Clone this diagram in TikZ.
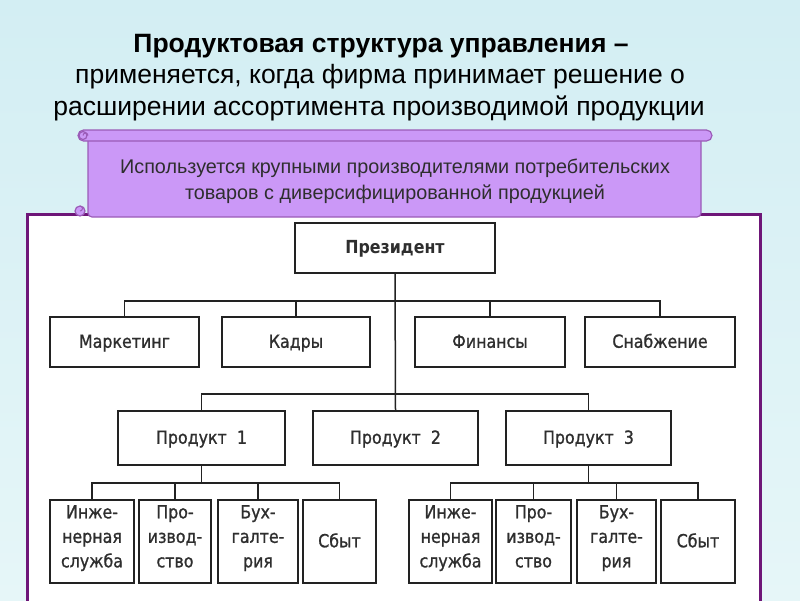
\documentclass[tikz,border=0pt]{standalone}
\usepackage{fontspec}
\newfontfamily\tfont{Liberation Sans}
\newfontfamily\cfont[FakeBold=1.0,FakeStretch=0.88]{DejaVu Sans}
\newfontfamily\cbfont[FakeStretch=0.88]{DejaVu Sans Bold}
\definecolor{bgtop}{HTML}{D3EEF3}
\definecolor{bgbot}{HTML}{E6F6F8}
\definecolor{scrollfill}{HTML}{CB98F7}
\definecolor{scrolldraw}{HTML}{9B5CB8}
\definecolor{panelborder}{HTML}{6E1678}
\definecolor{linecol}{HTML}{222222}
\definecolor{txtcol}{HTML}{2E2E2E}
\newcommand{\zs}{\rule[-4pt]{0pt}{19.5pt}}
\newcommand{\zm}{\rule[-10.5pt]{0pt}{23.5pt}}
\tikzset{
  orgbox/.style={draw=linecol, line width=1.5pt, fill=white, inner sep=0pt,
    font=\cfont\fontsize{18}{24.5}\selectfont, text=txtcol, align=center},
  link/.style={draw=linecol, line width=1.5pt},
  scrollpart/.style={draw=scrolldraw, line width=1.2pt, fill=scrollfill},
  titletext/.style={font=\tfont\fontsize{26.5}{31}\selectfont, text=black, anchor=base, inner sep=0pt},
  bannertext/.style={font=\tfont\fontsize{19.8}{27}\selectfont, text=txtcol, anchor=base, inner sep=0pt},
}
\begin{document}
\begin{tikzpicture}[x=1pt,y=-1pt]
\useasboundingbox (0,0) rectangle (800,600);
\shade[top color=bgtop, bottom color=bgbot] (0,0) rectangle (800,600);
% title
\node[titletext] (title1) at (381,52) {\textbf{Продуктовая структура управления –}};
\node[titletext] (title2) at (380,83.5) {применяется, когда фирма принимает решение о};
\node[titletext] (title3) at (379,115) {расширении ассортимента производимой продукции};
% white panel
\draw[draw=panelborder, line width=3pt, fill=white] (27,214) -- (760,214) -- (760,640) -- (27,640) -- cycle;
% scroll
\draw[scrollpart, rounded corners=4pt] (88,137) -- (701,137) -- (701,217) -- (88,217) -- cycle;
\draw[scrollpart, rounded corners=5.5pt] (78,130) rectangle (712,141);
\draw[scrollpart] (83,135.5) circle (4);
\draw[scrolldraw, line width=1pt] (83,135.5) arc (180:360:2.5);
\draw[scrollpart] (80,211) circle (5);
\draw[scrolldraw, line width=1pt] (80,211) arc (90:-90:2.5);
\node[bannertext] (banner1) at (395,173) {Используется крупными производителями потребительских};
\node[bannertext] (banner2) at (395,199.5) {товаров с диверсифицированной продукцией};
% org chart
\node[orgbox, minimum width=200pt, minimum height=50pt] (pres) at (395,248) {\cbfont\zs Президент};
\node[orgbox, minimum width=149pt, minimum height=50pt] (mark) at (124.5,342) {\zs Маркетинг};
\node[orgbox, minimum width=148pt, minimum height=50pt] (kadr) at (296,342) {\zs Кадры};
\node[orgbox, minimum width=150pt, minimum height=50pt] (fin) at (490,342) {\zs Финансы};
\node[orgbox, minimum width=150pt, minimum height=50pt] (snab) at (660,342) {\zs Снабжение};
\node[orgbox, minimum width=167pt, minimum height=54pt] (p1) at (201.5,438) {\zs Продукт~~1};
\node[orgbox, minimum width=165pt, minimum height=54pt] (p2) at (395.5,438) {\zs Продукт~~2};
\node[orgbox, minimum width=165pt, minimum height=54pt] (p3) at (588.5,438) {\zs Продукт~~3};
\node[orgbox, minimum width=84pt, minimum height=83pt] (e1) at (92,541.5) {\zm Инже-\\\zm нерная\\\zm служба};
\node[orgbox, minimum width=72pt, minimum height=83pt] (r1) at (175,541.5) {\zm Про-\\\zm извод-\\\zm ство};
\node[orgbox, minimum width=80pt, minimum height=83pt] (b1) at (258,541.5) {\zm Бух-\\\zm галте-\\\zm рия};
\node[orgbox, minimum width=73pt, minimum height=83pt] (s1) at (339.5,541.5) {\zs Сбыт};
\node[orgbox, minimum width=83pt, minimum height=83pt] (e2) at (450.5,541.5) {\zm Инже-\\\zm нерная\\\zm служба};
\node[orgbox, minimum width=75pt, minimum height=83pt] (r2) at (533.5,541.5) {\zm Про-\\\zm извод-\\\zm ство};
\node[orgbox, minimum width=79pt, minimum height=83pt] (b2) at (616.5,541.5) {\zm Бух-\\\zm галте-\\\zm рия};
\node[orgbox, minimum width=74pt, minimum height=83pt] (s2) at (698,541.5) {\zs Сбыт};
% connectors
\coordinate (busA) at (395,301);
\coordinate (busB) at (395,394);
\coordinate (busC) at (201.5,483);
\coordinate (busD) at (588.5,483);
\draw[link] (pres.south) -- (p2.north);
\draw[link] (mark.north) |- (busA) -| (snab.north);
\draw[link] (kadr.north) -- (kadr.north |- busA);
\draw[link] (fin.north) -- (fin.north |- busA);
\draw[link] (p1.north) |- (busB) -| (p3.north);
\draw[link] (p1.south) -- (busC);
\draw[link] (e1.north) |- (busC) -| (s1.north);
\draw[link] (r1.north) -- (r1.north |- busC);
\draw[link] (b1.north) -- (b1.north |- busC);
\draw[link] (p3.south) -- (busD);
\draw[link] (e2.north) |- (busD) -| (s2.north);
\draw[link] (r2.north) -- (r2.north |- busD);
\draw[link] (b2.north) -- (b2.north |- busD);
\end{tikzpicture}
\end{document}
